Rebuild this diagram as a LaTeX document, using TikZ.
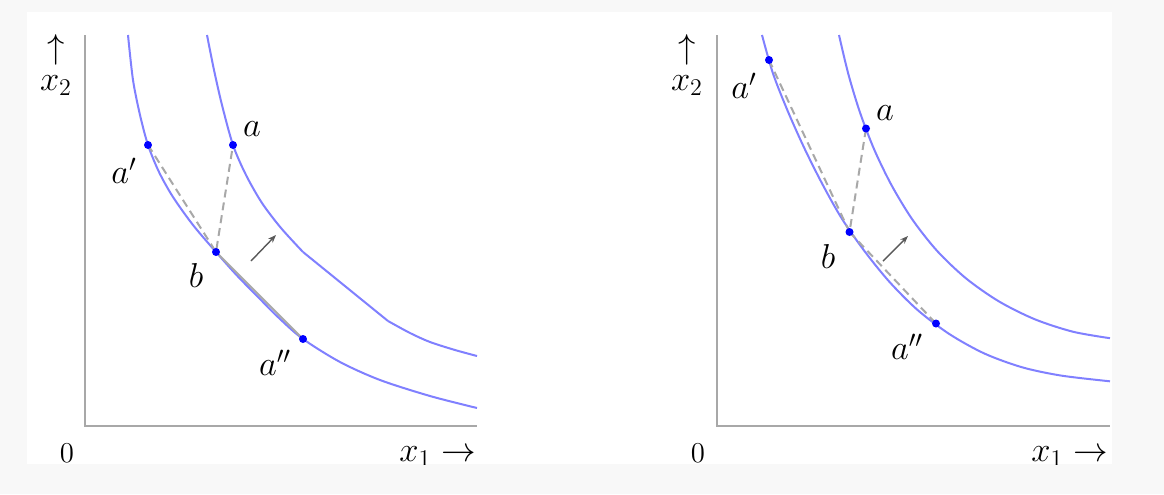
\documentclass[tikz,border=0pt]{standalone}
\usetikzlibrary{arrows.meta}
\definecolor{curveblue}{RGB}{128,128,255}
\definecolor{axisgray}{RGB}{168,168,168}
\definecolor{pagegray}{RGB}{248,248,248}
\tikzset{
	curve/.style={curveblue, line width=1pt},
	chord/.style={axisgray, line width=1pt, dash pattern=on 4pt off 2.5pt},
	chordsolid/.style={axisgray, line width=1pt},
	dot/.style={circle, fill=blue, inner sep=0pt, minimum size=4pt},
	lbl/.style={font=\fontsize{17.28}{16}\selectfont},
	zero/.style={font=\fontsize{14.4}{16}\selectfont, anchor=base},
	axis/.style={axisgray, line width=1.2pt},
	moveup/.style={-{Stealth[length=4pt,width=3pt]}, black!65, line width=0.7pt}
}

\begin{document}
\begin{tikzpicture}[x=0.5pt,y=-0.5pt]
	  \fill[pagegray] (0,0) rectangle (1164,494);
	  \fill[white] (27,12) rectangle (1112,464);
	  \clip (27,12) rectangle (1112,464);
	  % Left panel
	  \draw [axis] (85,35) |- (477,426);
	  \draw [curve] plot [smooth] coordinates {(128,35) (133,80) (140,115) (148,145) (159,172) (173,197) (193,225) (216,252) (236.5,275) (258,297) (280,319) (303,339) (340,362) (380,380) (430,396) (477,408)};
	  \draw [curve] plot [smooth] coordinates {(207,35) (214,70) (222,105) (233,145) (246,175) (262,203) (281,228) (303,252)};
	  \draw [curve] (303,252) -- (388,321);
	  \draw [curve] plot [smooth] coordinates {(388,321) (410,333) (430,342) (455,350) (477,356)};
	  \coordinate (Lap) at (148,145);
	  \coordinate (La) at (233,145);
	  \coordinate (Lb) at (216,252);
	  \coordinate (Lapp) at (303,339);
	  \draw [chord] (Lap) -- (Lb) -- (La);
	  \draw [chordsolid] (Lb) -- (Lapp);
	  \draw [moveup] (251,261) -- (276,235);
	  \node [dot] (Lap-dot) at (Lap) {};
	  \node [dot] (La-dot) at (La) {};
	  \node [dot] (Lb-dot) at (Lb) {};
	  \node [dot] (Lapp-dot) at (Lapp) {};
	  % Left labels
	  \node [lbl] (La-lbl) at (252,129) {$a$};
	  \node [lbl] (Lap-lbl) at (124,171) {$a'$};
	  \node [lbl] (Lb-lbl) at (196,275) {$b$};
	  \node [lbl] (Lapp-lbl) at (275,363) {$a''$};
	  \node [lbl, align=center] (Ly) at (56,65) {$\uparrow$\\$x_2$};
	  \node [lbl, inner sep=0pt, anchor=base east] (Lx) at (476,461) {$x_1\rightarrow$};
	  \node [zero] (L0) at (67,462) {$0$};
	  % Right panel
	  \draw [axis] (717,35) |- (1110,426);
	  \draw [curve] plot [smooth] coordinates {(762,35) (773,73.5) (787.6,110.7) (803.9,147.2) (821.8,183) (841.4,217.9) (864.2,250.7) (889.4,281.8) (917.7,310.1) (949.6,334.2) (984.6,353.6) (1022.2,367.3) (1061.3,375.6) (1110,381.3)};
	  \draw [curve] plot [smooth] coordinates {(839,35) (848.3,73.9) (859.9,112.2) (874.2,149.5) (891.7,185.5) (912.5,219.7) (937.3,251.1) (966.3,278.6) (999.1,301.5) (1034.9,319.3) (1072.9,331.7) (1110,338.2)};
	  \coordinate (Rap) at (769,60);
	  \coordinate (Ra) at (866,128.5);
	  \coordinate (Rb) at (849.5,232);
	  \coordinate (Rapp) at (936,323.5);
	  \draw [chord] (Rap) -- (Rb) -- (Ra);
	  \draw [chord] (Rb) -- (Rapp);
	  \draw [moveup] (883,261) -- (908,236);
	  \node [dot] (Rap-dot) at (Rap) {};
	  \node [dot] (Ra-dot) at (Ra) {};
	  \node [dot] (Rb-dot) at (Rb) {};
	  \node [dot] (Rapp-dot) at (Rapp) {};
	  % Right labels
	  \node [lbl] (Ra-lbl) at (885,113) {$a$};
	  \node [lbl] (Rap-lbl) at (744,86) {$a'$};
	  \node [lbl] (Rb-lbl) at (828,256) {$b$};
	  \node [lbl] (Rapp-lbl) at (907,347) {$a''$};
	  \node [lbl, align=center] (Ry) at (687,65) {$\uparrow$\\$x_2$};
	  \node [lbl, inner sep=0pt, anchor=base east] (Rx) at (1108,461) {$x_1\rightarrow$};
	  \node [zero] (R0) at (698,462) {$0$};
\end{tikzpicture}
\end{document}
